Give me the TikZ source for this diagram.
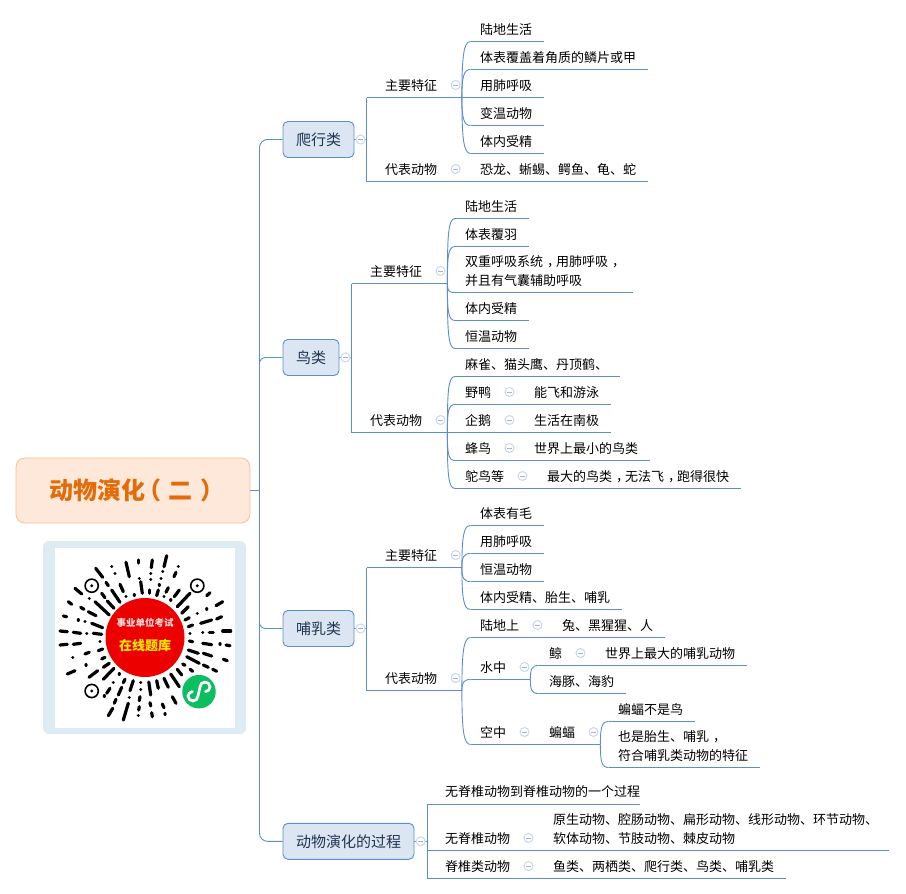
\documentclass[tikz,border=0pt]{standalone}
\usepackage{fontspec}
\setmainfont{Noto Sans CJK SC}
\usetikzlibrary{calc}
\definecolor{linec}{HTML}{5B8ED0}
\definecolor{boxfill}{HTML}{DCE6F2}
\definecolor{boxtext}{HTML}{1F3552}
\definecolor{colc}{HTML}{C9D6EE}
\definecolor{dashc}{HTML}{A3B3D3}
\definecolor{rootb}{HTML}{F8C397}
\definecolor{rootf}{HTML}{FEE8DA}
\definecolor{roott}{HTML}{E36C09}
\definecolor{qrbg}{HTML}{DCECF2}
\definecolor{qrred}{HTML}{EC0000}
\definecolor{qrpale}{HTML}{F8DCDC}
\definecolor{qryel}{HTML}{FFE800}
\definecolor{qrgreen}{HTML}{0BBF60}
\newcommand\zc{\makebox[1em][l]{\hspace{.3em}，}}
\newcommand\lpar{\makebox[1em][l]{\hspace{-.3em}（}}
\newcommand\rpar{\makebox[1em][l]{\hspace{.3em}）}}
\tikzset{
  conn/.style={draw=linec,line width=0.9pt},
  topic/.style={inner xsep=0pt,inner ysep=7pt,text depth=0pt,anchor=south west,text=black,font=\fontsize{13}{19}\selectfont},
  branch/.style={draw=linec,fill=boxfill,rounded corners=5pt,line width=0.9pt,text=boxtext,font=\fontsize{15}{18}\selectfont,inner sep=0pt,minimum height=36pt},
  rootbox/.style={draw=rootb,fill=rootf,rounded corners=9pt,line width=0.8pt,text=roott,font=\fontsize{24}{26}\selectfont\bfseries,inner sep=0pt,minimum width=234pt,minimum height=65pt},
  collapse/.style={circle,draw=colc,fill=white,line width=1pt,minimum size=9pt,inner sep=0pt,
    path picture={\draw[dashc,line width=0.9pt] ($(path picture bounding box.center)+(-2.5,0)$) -- ($(path picture bounding box.center)+(2.5,0)$);}},
  bar/.style={line width=3.2pt,line cap=round,black}
}
% name, x0, textx, x1, y of underline, text
\newcommand\tp[6]{%
  \node[topic] (#1) at (#2,#5) {\makebox[\dimexpr #4pt-#2pt\relax][l]{\hspace*{\dimexpr #3pt-#2pt\relax}\begin{tabular}[b]{@{}l@{}}#6\end{tabular}}};
  \draw[conn] (#1.south west) -- (#1.south east);
}
% curved connector: parent, child
\newcommand\cv[2]{%
  \draw[conn] (#1.south east) .. controls ($(#1.south east)!0.72!(#1.south east |- #2.south west)$) and ($(#2.south west)+(-7,0)$) .. (#2.south west);
}
\newcommand\st[2]{\draw[conn] (#1.south west) -- (#2.south west);}
\newcommand\cl[3]{\node[collapse] (#1) at (#2,#3) {};}
\begin{document}
\begin{tikzpicture}[x=1pt,y=-1pt]
\useasboundingbox[fill=white] (0,0) rectangle (906,894);

% ---------- root and branches
\node[rootbox] (root) at (133,490.5) {动物演化\lpar 二\rpar};
\node[branch,minimum width=71pt] (b1) at (318.5,139.5) {爬行类};
\node[branch,minimum width=56pt] (b2) at (311,357.5) {鸟类};
\node[branch,minimum width=71pt] (b3) at (318.5,628.5) {哺乳类};
\node[branch,minimum width=131pt] (b4) at (348.5,841.3) {动物演化的过程};
\coordinate (tr) at (259.5,490.5);
\draw[conn] (root.east) -- (tr);
\draw[conn,rounded corners=8pt] (tr) |- (b1.west);
\draw[conn,rounded corners=8pt] (tr) |- (b4.west);
\draw[conn,rounded corners=6pt] (tr) |- (b2.west);
\draw[conn,rounded corners=6pt] (tr) |- (b3.west);

% ---------- branch 1
\tp{a1}{366.5}{385}{461.5}{97.5}{主要特征}
\tp{a2}{366.5}{385}{461.5}{181.5}{代表动物}
\tp{a11}{470.5}{480}{544}{41.5}{陆地生活}
\tp{a12}{470.5}{480}{648}{69.5}{体表覆盖着角质的鳞片或甲}
\tp{a13}{470.5}{480}{544}{97.5}{用肺呼吸}
\tp{a14}{470.5}{480}{544}{125.5}{变温动物}
\tp{a15}{470.5}{480}{544}{153.5}{体内受精}
\tp{a21}{461.5}{480}{648}{181.5}{恐龙、蜥蜴、鳄鱼、龟、蛇}
\st{a1}{a2}
\draw[conn] (b1.east) -- (b1.east -| a1.south west);
\cv{a1}{a11}\cv{a1}{a12}\cv{a1}{a13}\cv{a1}{a14}\cv{a1}{a15}
\cl{c1}{360.5}{139.5}\cl{c11}{455.7}{85}\cl{c12}{455.7}{169}

% ---------- branch 2
\tp{d1}{351.5}{370}{447}{283.5}{主要特征}
\tp{d2}{351.5}{370}{447}{432.5}{代表动物}
\tp{d11}{455}{465}{529}{218.5}{陆地生活}
\tp{d12}{455}{465}{529}{246.5}{体表覆羽}
\tp{d13}{455}{465}{633}{292.5}{双重呼吸系统\zc 用肺呼吸\zc\\并且有气囊辅助呼吸}
\tp{d14}{455}{465}{529}{320.5}{体内受精}
\tp{d15}{455}{465}{529}{348.5}{恒温动物}
\tp{d21}{455}{465}{620}{376.5}{麻雀、猫头鹰、丹顶鹤、}
\tp{d22}{455}{465}{524}{404.5}{野鸭}
\tp{d23}{455}{465}{524}{432.5}{企鹅}
\tp{d24}{455}{465}{524}{460.5}{蜂鸟}
\tp{d25}{455}{465}{537}{488.5}{鸵鸟等}
\tp{d22a}{524}{534}{611}{404.5}{能飞和游泳}
\tp{d23a}{524}{534}{611}{432.5}{生活在南极}
\tp{d24a}{524}{534}{650}{460.5}{世界上最小的鸟类}
\tp{d25a}{537}{547}{741}{488.5}{最大的鸟类\zc 无法飞\zc 跑得很快}
\st{d1}{d2}
\draw[conn] (b2.east) -- (b2.east -| d1.south west);
\cv{d1}{d11}\cv{d1}{d12}\cv{d1}{d13}\cv{d1}{d14}\cv{d1}{d15}
\cv{d2}{d21}\cv{d2}{d22}\cv{d2}{d23}\cv{d2}{d24}\cv{d2}{d25}
\cl{c2}{345.5}{357.5}\cl{c21}{440.5}{271}\cl{c22}{440.5}{420}
\cl{c23}{509.5}{392}\cl{c24}{509.5}{420}\cl{c25}{509.5}{448}\cl{c26}{522.5}{476}

% ---------- branch 3
\tp{e1}{366.5}{385}{461.5}{567.5}{主要特征}
\tp{e2}{366.5}{385}{461.5}{690.5}{代表动物}
\tp{e11}{470.5}{480}{544}{525.5}{体表有毛}
\tp{e12}{470.5}{480}{544}{553.5}{用肺呼吸}
\tp{e13}{470.5}{480}{544}{581.5}{恒温动物}
\tp{e14}{470.5}{480}{622}{609.5}{体内受精、胎生、哺乳}
\tp{e21}{470.5}{480}{552}{637.5}{陆地上}
\tp{e21a}{552}{562}{665}{637.5}{兔、黑猩猩、人}
\tp{e22}{470.5}{480}{530}{679.5}{水中}
\tp{e23}{470.5}{480}{539}{744.5}{空中}
\tp{e221}{538.5}{549}{595}{665.5}{鲸}
\tp{e221a}{595}{605}{747}{665.5}{世界上最大的哺乳动物}
\tp{e222}{538.5}{549}{626}{693.5}{海豚、海豹}
\tp{e231}{539}{549}{600}{744.5}{蝙蝠}
\tp{e2311}{608.5}{618}{695}{721.5}{蝙蝠不是鸟}
\tp{e2312}{608.5}{618}{760}{767.5}{也是胎生、哺乳\zc\\符合哺乳类动物的特征}
\st{e1}{e2}
\draw[conn] (b3.east) -- (b3.east -| e1.south west);
\cv{e1}{e11}\cv{e1}{e12}\cv{e1}{e13}\cv{e1}{e14}
\cv{e2}{e21}\cv{e2}{e22}\cv{e2}{e23}
\cv{e22}{e221}\cv{e22}{e222}
\cv{e231}{e2311}\cv{e231}{e2312}
\cl{c3}{360.5}{628.5}\cl{c31}{455.7}{555}\cl{c32}{455.7}{678}
\cl{c33}{537.5}{625}\cl{c34}{524.5}{667}\cl{c35}{580.5}{653}\cl{c36}{524.5}{732}\cl{c37}{593.5}{732}

% ---------- branch 4
\tp{f1}{427}{445}{640}{804}{无脊椎动物到脊椎动物的一个过程}
\tp{f2}{427}{445}{543}{850.5}{无脊椎动物}
\tp{f2a}{543}{553}{889}{850.5}{原生动物、腔肠动物、扁形动物、线形动物、环节动物、\\软体动物、节肢动物、棘皮动物}
\tp{f3}{427}{445}{543}{878.5}{脊椎类动物}
\tp{f3a}{543}{553}{786}{878.5}{鱼类、两栖类、爬行类、鸟类、哺乳类}
\st{f1}{f3}
\draw[conn] (b4.east) -- (b4.east -| f1.south west);
\cl{c4}{420.7}{841.3}\cl{c41}{528.5}{838}\cl{c42}{528.5}{866}

% ---------- mini-program code
\fill[fill=qrbg,rounded corners=6pt] (43,541) rectangle (246,734);
\fill[white] (55,548) rectangle (235,728);
\foreach \xa/\ya/\xb/\yb in {
138.3/560/138.3/563,126/562.3/129.3/576.7,111.7/566.7/111.8/566.7,115/573.3/115.1/573.3,95.7/568.3/102.7/577.3,
139.3/578.3/139.4/578.3,140.7/581.7/142.3/593.3,106/582.3/108.3/585.7,120/584.3/123.3/591.7,111.7/590/120/602.3,
101.7/593.3/105/597.7,75/588.3/81.7/594,89.3/598.3/89.4/598.3,126/596.7/126.1/596.7,134.3/595/134.4/595,
68.3/601.7/71.7/604.3,95/601.7/109.3/615,80.7/607.3/84/609.3,107.3/601/114/608.3,88.3/611.7/96/615.7,
63.3/616/66.7/616.7,78.3/620/78.4/620,85/621.7/85.1/621.7,91.7/623.3/102.7/627.7,60/631/67.3/631.7,
73.3/632.3/80.7/633.3,86.7/633.3/86.8/633.3,93.3/633.3/101.7/634.3,
166.7/555.7/164/566.7,152.3/560/151.3/567.7,178.3/566.7/178.4/566.7,162.7/571.7/162.8/571.7,150.7/573.3/150.8/573.3,
176/572.3/174/576.7,161/578.3/161.1/578.3,150.7/579.3/150.8/579.3,159.3/585/159.4/585,149.3/590/149.3/593.3,
158.3/590/156.7/595.7,168.3/587.7/166/592.3,179.3/590/174.3/596.7,164/596.7/164.1/596.7,170.7/600/170.8/600,
190/593.3/177.3/606.7,188.3/606.7/181.7/613.3,210/592.7/206.7/595.7,222.7/601.7/216/605.7,206.7/609/206.8/609,
197.3/613.3/197.4/613.3,189.3/617.7/185/620,221.7/616.7/216.7/619,211.7/620/200.7/623.3,192.7/625/188.3/626.7,
190/633.3/190.1/633.3,202.7/632.3/202.8/632.3,209.3/632.3/213.3/632.3,222.7/631/230.7/631,
60/645/67.3/644.3,73.3/644.3/80.7/643.3,100/641.7/100.1/641.7,85/654/89.3/652.3,98.3/650.7/102.7/649,
72.7/657.3/72.8/657.3,101.7/659/105/657.3,86/665/86.1/665,103.3/667.3/109.3/663.3,67.3/674/75/670.7,
89/677.3/97.7/670.7,103.3/679.3/114/668.3,119.3/674/119.4/674,113.3/682.7/113.4/682.7,125/679.3/123.3/682.7,
133.3/680.7/130/690.7,140.7/682.7/140.8/682.7,140.7/689.3/140.8/689.3,148.8/682/150.7/695,110/688.3/106.7/693.3,
121.7/687.3/118.3/695,104.3/696/104.4/696,129.3/697.3/129.4/697.3,140/696.7/139.3/700.7,116/699.3/114.3/703.3,
139.3/706.7/138.7/710,112.7/708.3/108.3/715.7,128.3/703.3/123.3/720,138.3/715.7/138.4/715.7,
192.7/641.7/189.3/641,202.7/643.3/211.7/644.7,220/644/220.1/644,226/645/230/645.7,188.3/650/198.3/653.3,
203.3/653.3/211.7/656,223.3/659.3/227.3/660.7,186.7/656.7/199.3/663.3,182.7/664/185/665.3,203.3/665/208.3/667.3,
212.7/669.3/216.7/671.3,190/669.3/192.7/671.3,177.3/669.3/181.7/675,170.7/674/179.3/686.7,164/678.3/168.3/687.3,
156.7/680.7/158.3/688.3,150/702.7/150.7/706,162.3/704/164/707.7,172.3/696.7/176/703.3,151.7/712.7/152.3/716.7,165/714/165.1/714}
{ \draw[bar] (\xa,\ya) -- (\xb,\yb); }
\foreach \cx/\cy in {91.7/585.7,197.3/585.7,91.7/691}{
  \draw[black,line width=1.6pt] (\cx,\cy) circle[radius=6.6pt];
  \fill[black] (\cx,\cy) circle[radius=1.6pt];
}
\node[circle,fill=qrred,minimum size=79pt,inner sep=0pt] (qrc) at (145,637.5) {};
\node[inner sep=0pt,text=qrpale,font=\fontsize{9.5}{11}\selectfont\bfseries] (qr1) at (145,622.5) {事业单位考试};
\node[inner sep=0pt,text=qryel,font=\fontsize{13}{15}\selectfont\bfseries] (qr2) at (145,646) {在线题库};
\node[circle,fill=qrgreen,minimum size=33.5pt,inner sep=0pt] (qrg) at (199,691.7) {};
\draw[white,line width=2.7pt,line cap=round] (192.5,691.5) .. controls (190,692) and (188,693.8) .. (188,696) .. controls (188,698.8) and (190.2,701) .. (193,701) .. controls (195.8,701) and (198,698.8) .. (198,696) -- (200,687) .. controls (200,684.2) and (202.2,682) .. (205,682) .. controls (207.8,682) and (210,684.2) .. (210,687) .. controls (210,689.5) and (208,691.3) .. (205.5,691.7);
\end{tikzpicture}
\end{document}
